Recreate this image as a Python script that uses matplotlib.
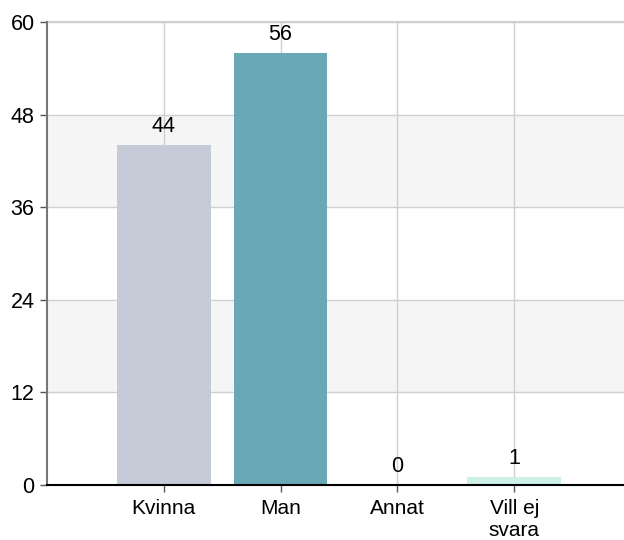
import matplotlib
matplotlib.use('Agg')
import matplotlib.pyplot as plt

categories = ['Kvinna', 'Man', 'Annat', 'Vill ej\nsvara']
values = [44, 56, 0, 1]
bar_colors = ['#c5ccd8', '#68a9b5', '#cff0e8', '#cff0e8']
y_ticks = [0, 12, 24, 36, 48, 60]
shaded_bands = [(12, 24), (36, 48)]

plt.rcParams['font.family'] = ['Liberation Sans', 'DejaVu Sans']

fig = plt.figure(figsize=(6.24, 5.4), dpi=100)
ax = fig.add_axes([47 / 624, 1 - 485 / 540, 1 - 47 / 624, (485 - 22) / 540])

x = list(range(len(categories)))

# alternating background bands
for lo, hi in shaded_bands:
    ax.axhspan(lo, hi, color='#f5f5f5', zorder=0, lw=0)

ax.bar(x, values, width=0.8, color=bar_colors, zorder=2)

for xi, v in zip(x, values):
    ax.annotate(str(v), (xi, v), xytext=(0, 6), textcoords='offset points',
                ha='center', va='bottom', fontsize=15.5, color='black', zorder=3)

ax.set_xlim(-1, 3.94)
ax.set_ylim(0, 60)
ax.set_yticks(y_ticks)
ax.set_xticks(x)
ax.set_xticklabels(categories, fontsize=15, linespacing=1.2)
ax.tick_params(axis='y', labelsize=15.5, length=5, width=1, color='#555555', pad=4)
ax.tick_params(axis='x', length=5, width=1, color='#555555', pad=5)

ax.grid(True, color='#d0d0d0', lw=1, zorder=1)
ax.set_axisbelow(True)

for side in ['top', 'right']:
    ax.spines[side].set_visible(False)
ax.spines['left'].set_color('#777777')
ax.spines['left'].set_linewidth(1.5)
ax.spines['bottom'].set_color('black')
ax.spines['bottom'].set_linewidth(1.5)

# top gridline at 60 drawn explicitly so it stays visible at the edge
ax.axhline(60, color='#d0d0d0', lw=1.5, zorder=1, clip_on=False)

fig.savefig('out.png', dpi=100)
